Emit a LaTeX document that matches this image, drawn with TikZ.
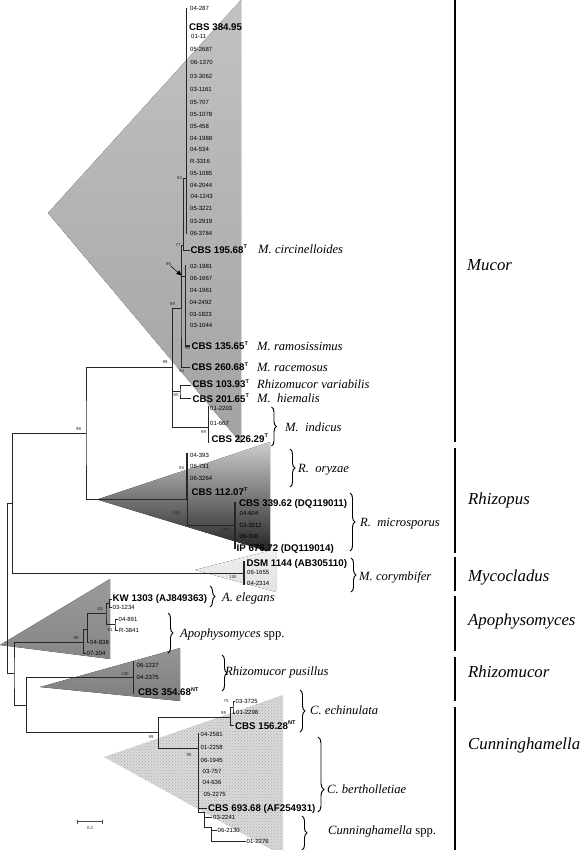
\documentclass[tikz,border=0pt]{standalone}
\usepackage{fontspec}
\setmainfont{Liberation Serif}
\newfontfamily\arialf{Liberation Sans}
\usetikzlibrary{decorations.pathreplacing,patterns,arrows.meta}
\definecolor{mucT}{HTML}{C2C2C2}
\definecolor{mucB}{HTML}{A3A3A3}
\definecolor{rhzT}{HTML}{CDCDCD}
\definecolor{rhzM}{HTML}{5C5C5C}
\definecolor{rhzB}{HTML}{222222}
\definecolor{mycT}{HTML}{F0F0F0}
\definecolor{mycB}{HTML}{E2E2E2}
\definecolor{apoT}{HTML}{9A9A9A}
\definecolor{apoB}{HTML}{868686}
\definecolor{rmuT}{HTML}{959595}
\definecolor{rmuB}{HTML}{7E7E7E}
\definecolor{cunF}{HTML}{DADADA}
\definecolor{cunD}{HTML}{A8A8A8}
\newcommand{\supT}{\raisebox{0.42em}{\fontsize{5.5}{5.5}\selectfont T}}
\newcommand{\supNT}{\raisebox{0.42em}{\fontsize{5.5}{5.5}\selectfont NT}}
\begin{document}
\begin{tikzpicture}[x=1pt,y=-1pt,
  tree/.style={line width=0.75pt, draw=black!85},
  col/.style={line width=1.25pt, draw=black!85},
  lf/.style={font=\arialf\fontsize{6}{6}\selectfont, anchor=west, inner sep=0pt, text height=4.3pt, text depth=0pt},
  cb/.style={font=\arialf\bfseries\fontsize{9.7}{10}\selectfont, anchor=west, inner sep=0pt, text height=7pt, text depth=0pt},
  bt/.style={font=\arialf\fontsize{4.3}{4.5}\selectfont, inner sep=0pt, text=black!85, text height=3.1pt, text depth=0pt},
  spc/.style={font=\fontsize{12.6}{13}\selectfont\itshape, anchor=west, inner sep=0pt, text height=8.4pt, text depth=0pt},
  gen/.style={font=\fontsize{16.8}{17}\selectfont\itshape, anchor=west, inner sep=0pt, text height=11.1pt, text depth=0pt},
  brc/.style={decorate, decoration={brace, amplitude=5pt}, line width=0.95pt},
  brcA/.style={decorate, decoration={brace, amplitude=6pt, aspect=0.7}, line width=0.95pt},
  gbar/.style={line width=2.6pt, draw=black}]
\useasboundingbox (0,0) rectangle (584,850);

% ---------- clade triangles ----------
\fill[top color=mucT, bottom color=mucB] (48,213) -- (241,0) -- (241,443) -- cycle;
\fill[top color=rhzT, middle color=rhzM, bottom color=rhzB] (97,499.5) -- (270,442) -- (270,552) -- cycle;
\fill[top color=mycT, bottom color=mycB] (195,570) -- (276,549) -- (276,592) -- cycle;
\fill[top color=apoT, bottom color=apoB] (0,645) -- (110,579) -- (110,659) -- cycle;
\fill[top color=rmuT, bottom color=rmuB] (40,687) -- (180,648) -- (180,701) -- cycle;
\fill[cunF] (104,757) -- (283,695) -- (283,856) -- cycle;
\fill[pattern=crosshatch dots, pattern color=cunD] (104,757) -- (283,695) -- (283,856) -- cycle;

% ---------- tree coordinates ----------
\coordinate (r) at (7.3,588);
\coordinate (nA) at (12.7,503);
\coordinate (n98) at (86,433);
\coordinate (nM1) at (172.7,367);
\coordinate (nM89) at (181,308);
\coordinate (n84) at (183.3,245);
\coordinate (nLC) at (186.5,178);
\coordinate (nLCt) at (186.5,8);
\coordinate (nLCb) at (186.5,234);
\coordinate (L195) at (189.5,250);
\coordinate (n96) at (185.5,276);
\coordinate (n96t) at (185.5,265);
\coordinate (L135) at (190,346);
\coordinate (L260) at (190,367);
\coordinate (nX80) at (180,391.5);
\coordinate (L103) at (191,385);
\coordinate (L201) at (191,398);
\coordinate (nMind) at (208.3,427);
\coordinate (nMindT) at (208.3,406);
\coordinate (nMindB) at (208.3,443);
\coordinate (nRz) at (187,499);
\coordinate (nRzT) at (187,453);
\coordinate (nRmic) at (235,525);
\coordinate (nRmicT) at (235,502);
\coordinate (nRmicB) at (235,549);
\coordinate (nMyc) at (244,573);
\coordinate (nMycT) at (244,561);
\coordinate (nMycB) at (244,585);
\coordinate (nC) at (14,673);
\coordinate (nApo) at (83.3,642);
\coordinate (n87) at (87.3,629);
\coordinate (L838) at (89,642);
\coordinate (L204) at (85.5,653);
\coordinate (n83) at (106,613);
\coordinate (nKW) at (109.3,603);
\coordinate (LKW) at (111.5,599);
\coordinate (L1234) at (111.5,607);
\coordinate (n91) at (115,624);
\coordinate (L891) at (117.5,619);
\coordinate (L3841) at (117.5,630);
\coordinate (nD) at (26.7,705);
\coordinate (nRhM) at (133.3,677);
\coordinate (nRhMT) at (133.3,661);
\coordinate (nRhMB) at (133.3,694);
\coordinate (nCun) at (158.3,732);
\coordinate (nCech) at (230.7,717);
\coordinate (nCe75) at (233,707);
\coordinate (L3725) at (234.5,701);
\coordinate (L2298) at (234.5,713);
\coordinate (L156) at (234,725);
\coordinate (nCber) at (198.3,748);
\coordinate (nCberT) at (198.3,733);
\coordinate (nCberB) at (198.3,812);
\coordinate (nCb808) at (198.3,808);
\coordinate (L693) at (207,808);
\coordinate (nS1) at (204,812);
\coordinate (L2241) at (212,817.5);
\coordinate (nS2) at (211.7,827);
\coordinate (L2130) at (216.5,830);
\coordinate (L2276) at (245.5,841.5);
\coordinate (aTip) at (181.5,275.5);

% ---------- tree branches ----------
\draw[tree] (nA) -| (r) |- (nC);
\draw[tree] (n98) -| (nA) |- (nMyc);
\draw[tree] (nM1) -| (n98) |- (nRz);
\draw[tree] (nM89) -| (nM1) |- (nMind);
\draw[tree] (nM1) |- (nX80);
\draw[tree] (n84) -| (nM89) |- (L260);
\draw[tree] (nM89) |- (n96);
\draw[tree] (nLC) -| (n84) |- (L195);
\draw[col] (nLCt) -- (nLCb);
\draw[col] (n96t) |- (L135);
\draw[tree] (L103) -| (nX80) |- (L201);
\draw[col] (nMindT) -- (nMindB);
\draw[col] (nRzT) -- (nRz);
\draw[tree] (nRz) |- (nRmic);
\draw[col] (nRmicT) -- (nRmicB);
\draw[col] (nMycT) -- (nMycB);
\draw[tree] (nApo) -| (nC) |- (nD);
\draw[tree] (n87) -| (nApo) |- (L204);
\draw[tree] (n83) -| (n87) |- (L838);
\draw[tree] (nKW) -| (n83) |- (n91);
\draw[tree] (LKW) -| (nKW) |- (L1234);
\draw[tree] (L891) -| (n91) |- (L3841);
\draw[tree] (nRhM) -| (nD) |- (nCun);
\draw[col] (nRhMT) -- (nRhMB);
\draw[tree] (nCech) -| (nCun) |- (nCber);
\draw[tree] (nCe75) -| (nCech) |- (L156);
\draw[tree] (L3725) -| (nCe75) |- (L2298);
\draw[col] (nCberT) -- (nCberB);
\draw[tree] (nCb808) -- (L693);
\draw[tree] (nCberB) -- (nS1) |- (L2241);
\draw[tree] (nS1) |- (nS2);
\draw[tree] (L2130) -| (nS2) |- (L2276);

% ---------- Mucor leaves ----------
\node[lf] (t1) at (190,8) {04-287};
\node[cb] (t2) at (189,27) {CBS 384.95};
\node[lf] (t3) at (191,36.5) {01-11};
\node[lf] (t4) at (190,49.5) {05-2687};
\node[lf] (t5) at (190.5,62.5) {06-1370};
\node[lf] (t6) at (190,76) {03-3062};
\node[lf] (t7) at (190,89.5) {03-1161};
\node[lf] (t8) at (190,102.5) {05-707};
\node[lf] (t9) at (190,114.5) {05-1078};
\node[lf] (t10) at (190,126) {05-458};
\node[lf] (t11) at (190,138) {04-1988};
\node[lf] (t12) at (190,149.5) {04-534};
\node[lf] (t13) at (190,161) {R-3316};
\node[lf] (t14) at (190,173.5) {05-1085};
\node[lf] (t15) at (190,185) {04-2044};
\node[lf] (t16) at (190.5,196.5) {04-1243};
\node[lf] (t17) at (190,208.5) {05-3221};
\node[lf] (t18) at (190,221) {03-2919};
\node[lf] (t19) at (190,233.5) {06-3784};
\node[cb] (t20) at (190.5,249.5) {CBS 195.68\supT};
\node[lf] (t21) at (190,266.5) {02-1981};
\node[lf] (t22) at (190,278.5) {06-1667};
\node[lf] (t23) at (190,290) {04-1961};
\node[lf] (t24) at (189.5,302) {04-2492};
\node[lf] (t25) at (189.5,314) {03-1823};
\node[lf] (t26) at (190,325.5) {03-1044};
\node[cb] (t27) at (191.5,346) {CBS 135.65\supT};
\node[cb] (t28) at (191.5,367) {CBS 260.68\supT};
\node[cb] (t29) at (192.5,384) {CBS 103.93\supT};
\node[cb] (t30) at (192.5,398.5) {CBS 201.65\supT};
\node[lf] (t31) at (210,408) {01-2203};
\node[lf] (t32) at (210,423) {01-667};
\node[cb] (t33) at (211.5,438.5) {CBS 226.29\supT};
% Rhizopus
\node[lf] (t34) at (190,455) {04-393};
\node[lf] (t35) at (190,466) {06-731};
\node[lf] (t36) at (190,478.5) {06-3264};
\node[cb] (t37) at (191.5,492) {CBS 112.07\supT};
\node[cb] (t38) at (239,503) {CBS 339.62 (DQ119011)};
\node[lf] (t39) at (239.5,513.5) {04-604};
\node[lf] (t40) at (239.5,525) {03-3512};
\node[lf] (t41) at (239.5,536) {06-306};
\node[cb] (t42) at (236.5,547.5) {IP 676.72 (DQ119014)};
% Mycocladus
\node[cb] (t43) at (246.5,563) {DSM 1144 (AB305110)};
\node[lf] (t44) at (247,572.5) {06-1655};
\node[lf] (t45) at (247,583.5) {04-2314};
% Apophysomyces
\node[cb] (t46) at (112.5,597.5) {KW 1303 (AJ849363)};
\node[lf] (t47) at (112.5,607) {03-1234};
\node[lf] (t48) at (118.5,619.5) {04-891};
\node[lf] (t49) at (119,630) {R-3841};
\node[lf] (t50) at (90,642) {04-838};
\node[lf] (t51) at (86.5,653.5) {07-204};
% Rhizomucor
\node[lf] (t52) at (136.5,665.5) {06-1227};
\node[lf] (t53) at (136.5,677.5) {04-2375};
\node[cb] (t54) at (138,692) {CBS 354.68\supNT};
% Cunninghamella
\node[lf] (t55) at (235.5,701) {03-3725};
\node[lf] (t56) at (236,712.5) {01-2298};
\node[cb] (t57) at (235,725.5) {CBS 156.28\supNT};
\node[lf] (t58) at (200.5,734.5) {04-2581};
\node[lf] (t59) at (200.5,747.5) {01-2258};
\node[lf] (t60) at (200.5,760) {06-1945};
\node[lf] (t61) at (202.5,771.5) {03-757};
\node[lf] (t62) at (202.5,782.5) {04-636};
\node[lf] (t63) at (203.5,794.5) {05-2275};
\node[cb] (t64) at (208,808) {CBS 693.68 (AF254931)};
\node[lf] (t65) at (213,817.5) {03-2241};
\node[lf] (t66) at (217.5,830) {06-2130};
\node[lf] (t67) at (246.5,841.5) {01-2276};

% ---------- bootstrap values ----------
\node[bt] (b84) at (179.5,178) {84};
\node[bt] (b77) at (178,245) {77};
\node[bt] (b96a) at (168.5,264) {96};
\node[bt] (b89) at (172.5,304) {89};
\node[bt] (b96b) at (187.5,347.5) {96};
\node[bt] (b99a) at (165,362) {99};
\node[bt] (b94) at (181.5,370.5) {94};
\node[bt] (b80) at (176,395) {80};
\node[bt] (b99b) at (203.5,432) {99};
\node[bt] (b98) at (78.5,429) {98};
\node[bt] (b93) at (181.5,468) {93};
\node[bt] (b100a) at (176,513) {100};
\node[bt] (b100b) at (225,530) {100};
\node[bt] (b100c) at (233,577) {100};
\node[bt] (b83) at (100,609) {83};
\node[bt] (b91) at (110,629.5) {91};
\node[bt] (b99c) at (76,637.5) {99};
\node[bt] (b100d) at (125,673.5) {100};
\node[bt] (b75) at (226,701) {75};
\node[bt] (b99d) at (223.5,712.5) {99};
\node[bt] (b99e) at (151,737) {99};
\node[bt] (b95) at (189,755) {95};
\draw[line width=0.5pt, -{Triangle[length=5pt,width=4.5pt]}] (b96a) -- (aTip);

% ---------- species names and braces ----------
\node[spc] (s1) at (258,249) {M. circinelloides};
\node[spc] (s2) at (257,346.5) {M. ramosissimus};
\node[spc] (s3) at (257,367.5) {M. racemosus};
\node[spc] (s4) at (257,384) {Rhizomucor variabilis};
\node[spc] (s5) at (257,398.5) {M.\ \ hiemalis};

\coordinate (bInT) at (271.5,407); \coordinate (bInB) at (271.5,446);
\draw[brc] (bInT) -- (bInB);
\node[spc] (s6) at (285,427) {M.\ \ indicus};
\coordinate (bOrT) at (290,449); \coordinate (bOrB) at (290,487);
\draw[brc] (bOrT) -- (bOrB);
\node[spc] (s7) at (298,468) {R.\ \ oryzae};
\coordinate (bMiT) at (350,493); \coordinate (bMiB) at (350,551);
\draw[brc] (bMiT) -- (bMiB);
\node[spc] (s8) at (360,522) {R.\ \ microsporus};
\coordinate (bCoT) at (351,558); \coordinate (bCoB) at (351,592);
\draw[brc] (bCoT) -- (bCoB);
\node[spc] (s9) at (359,576) {M. corymbifer};
\coordinate (bElT) at (210,586); \coordinate (bElB) at (210,607);
\draw[brc] (bElT) -- (bElB);
\node[spc] (s10) at (222,597) {A. elegans};
\coordinate (bApT) at (168,613); \coordinate (bApB) at (168,653);
\draw[brc] (bApT) -- (bApB);
\node[spc] (s11) at (180,633) {Apophysomyces \upshape spp.};
\coordinate (bPuT) at (222,655); \coordinate (bPuB) at (222,691);
\draw[brc] (bPuT) -- (bPuB);
\node[spc] (s12) at (225,671) {Rhizomucor pusillus};
\coordinate (bEcT) at (300,690); \coordinate (bEcB) at (300,732);
\draw[brc] (bEcT) -- (bEcB);
\node[spc] (s13) at (310,710) {C. echinulata};
\coordinate (bBeT) at (318,737); \coordinate (bBeB) at (318,812);
\draw[brcA] (bBeT) -- (bBeB);
\node[spc] (s14) at (327,789) {C. bertholletiae};
\coordinate (bSpT) at (302,816); \coordinate (bSpB) at (302,850);
\draw[brc] (bSpT) -- (bSpB);
\node[spc] (s15) at (328,830) {Cunninghamella \upshape spp.};

% ---------- genus bars ----------
\coordinate (g1t) at (455,0);   \coordinate (g1b) at (455,442);
\coordinate (g2t) at (455,448); \coordinate (g2b) at (455,553);
\coordinate (g3t) at (455,557); \coordinate (g3b) at (455,591);
\coordinate (g4t) at (455,596); \coordinate (g4b) at (455,651);
\coordinate (g5t) at (455,657); \coordinate (g5b) at (455,701);
\coordinate (g6t) at (455,707); \coordinate (g6b) at (455,850);
\draw[gbar] (g1t) -- (g1b);
\draw[gbar] (g2t) -- (g2b);
\draw[gbar] (g3t) -- (g3b);
\draw[gbar] (g4t) -- (g4b);
\draw[gbar] (g5t) -- (g5b);
\draw[gbar] (g6t) -- (g6b);
\node[gen] (G1) at (467,265) {Mucor};
\node[gen] (G2) at (468,499) {Rhizopus};
\node[gen] (G3) at (468,576) {Mycocladus};
\node[gen] (G4) at (468,620) {Apophysomyces};
\node[gen] (G5) at (468,672) {Rhizomucor};
\node[gen] (G6) at (468,744) {Cunninghamella};

% ---------- scale bar ----------
\coordinate (sb1) at (77.3,821.7); \coordinate (sb2) at (103.3,821.7);
\draw[line width=1pt, black!70, {Bar[width=4pt]}-{Bar[width=4pt]}] (sb1) -- (sb2);
\node[bt] (sbl) at (90,827.5) {0.2};
\end{tikzpicture}
\end{document}
